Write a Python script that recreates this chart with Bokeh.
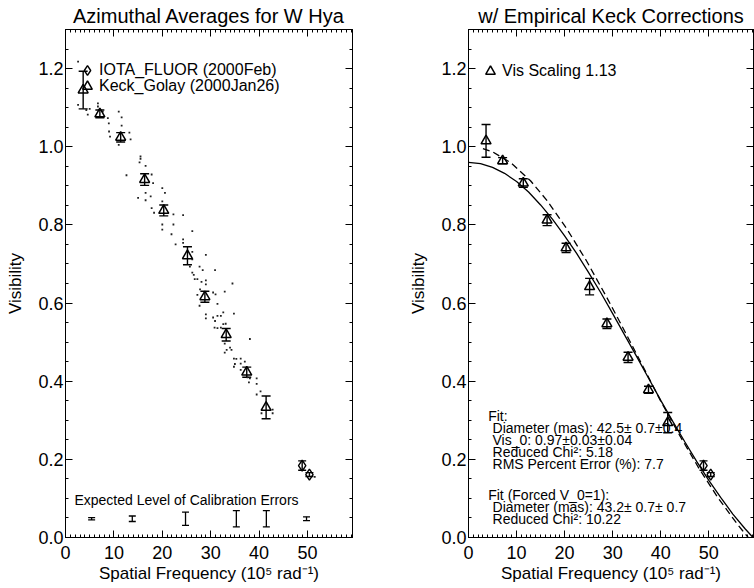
import numpy as np
from bokeh.plotting import figure
from bokeh.layouts import row
from bokeh.models import (ColumnDataSource, Whisker, TeeHead, Label, Legend, LegendItem,
                          LinearAxis, FixedTicker, PrintfTickFormatter, Range1d, Title)
from bokeh.embed import file_html
from bokeh.resources import INLINE

FONT = "Liberation Sans"

# ---------------- data ----------------
x_ticks = [0, 10, 20, 30, 40, 50]
y_ticks = [0.0, 0.2, 0.4, 0.6, 0.8, 1.0, 1.2]

keck_freq = [3.65, 7.1, 11.4, 16.35, 20.3, 25.2, 28.8, 33.2, 37.45, 41.45]
keck_vis_raw = [1.145, 1.084, 1.024, 0.916, 0.837, 0.721, 0.616, 0.519, 0.423, 0.333]
keck_err_raw = [0.048, 0.010, 0.012, 0.015, 0.014, 0.023, 0.014, 0.016, 0.013, 0.029]
keck_vis_corr = [1.015, 0.964, 0.907, 0.812, 0.741, 0.642, 0.547, 0.461, 0.378, 0.294]
keck_err_corr = [0.042, 0.008, 0.011, 0.014, 0.012, 0.021, 0.012, 0.013, 0.009, 0.026]

iota_freq = [48.9, 50.4]
iota_vis = [0.184, 0.161]
iota_err = [0.012, 0.005]

cal_freq = [5.4, 13.8, 24.8, 35.3, 41.5, 49.8]
cal_level = [0.048, 0.048, 0.048, 0.048, 0.048, 0.048]
cal_err = [0.003, 0.007, 0.017, 0.021, 0.021, 0.005]

dots_freq = [2.6, 2.6, 4.3, 5.0, 4.6, 6.7, 6.7, 7.7, 8.75, 8.95,
             11.0, 11.6, 9.0, 9.2, 11.6, 13.2, 13.45, 11.0, 15.5, 15.5,
             16.55, 15.3, 17.8, 18.1, 12.6, 15.0, 16.55, 16.55, 17.6, 20.0,
             20.55, 20.0, 17.8, 18.3, 22.3, 24.3, 20.0, 22.3, 20.0, 21.9,
             26.2, 22.75, 24.3, 24.3,
             26.2, 29.0, 26.2, 25.7, 27.7, 28.35, 30.9, 26.2, 26.5, 26.7,
             27.25, 28.1, 29.0, 29.0, 34.5, 27.8, 30.5, 31.0, 32.9, 27.25,
             31.4, 27.7, 29.0, 29.0, 30.5, 31.4, 32.1, 32.6, 34.8, 30.9,
             30.8, 31.4, 32.1, 32.6, 33.1, 38.1, 32.9, 34.0, 34.3, 33.3,
             32.9, 34.8, 35.3, 36.2, 37.05, 35.0, 34.8, 36.2, 36.2, 37.6,
             38.1, 39.5, 37.9, 39.5, 40.3, 39.5, 40.5, 42.8, 42.8, 51.5]
dots_vis = [1.218, 1.107, 1.094, 1.097, 1.082, 1.111, 1.103, 1.090, 1.073, 1.060,
            1.090, 1.075, 1.039, 1.026, 1.054, 1.036, 1.019, 1.005, 0.975, 0.969,
            0.951, 0.960, 0.929, 0.907, 0.927, 0.869, 0.882, 0.863, 0.873, 0.894,
            0.882, 0.860, 0.843, 0.831, 0.827, 0.825, 0.801, 0.801, 0.788, 0.776,
            0.784, 0.750, 0.763, 0.754,
            0.731, 0.723, 0.712, 0.693, 0.693, 0.684, 0.684, 0.678, 0.672, 0.661,
            0.661, 0.654, 0.658, 0.648, 0.650, 0.635, 0.627, 0.622, 0.629, 0.621,
            0.598, 0.593, 0.571, 0.561, 0.563, 0.567, 0.567, 0.576, 0.573, 0.554,
            0.537, 0.536, 0.537, 0.546, 0.547, 0.508, 0.496, 0.486, 0.480, 0.480,
            0.473, 0.458, 0.457, 0.458, 0.450, 0.444, 0.437, 0.445, 0.429, 0.410,
            0.407, 0.407, 0.397, 0.393, 0.374, 0.366, 0.318, 0.327, 0.318, 0.155]

fit_freq = [0, 2.5, 5, 7.5, 10, 12.5, 15, 17.5, 20, 22.5, 25, 27.5, 30, 32.5,
            35, 37.5, 40, 42.5, 45, 47.5, 50, 52.5, 55, 57.5, 59.2]
fit_vis = [0.960, 0.957, 0.947, 0.932, 0.911, 0.884, 0.851, 0.814, 0.772, 0.727,
           0.678, 0.627, 0.573, 0.518, 0.463, 0.407, 0.351, 0.297, 0.245, 0.194,
           0.146, 0.102, 0.060, 0.023, 0.0]

forced_freq = [3.0, 5.0, 8.8, 12.9, 16.35, 20.5, 24.6, 28.7, 32.2, 36.0, 40.0,
               44.0, 48.0, 52.0, 56.0, 57.0, 58.2]
forced_vis = [0.995, 0.987, 0.959, 0.913, 0.862, 0.789, 0.707, 0.616, 0.535, 0.445,
              0.349, 0.260, 0.176, 0.100, 0.033, 0.018, 0.0]

fit_lines = ["Fit:",
             "Diameter (mas):  42.5\u00b1 0.7\u00b10.4",
             "Vis_0:  0.97\u00b10.03\u00b10.04",
             "Reduced Chi\u00b2:  5.18",
             "RMS Percent Error (%):  7.7"]
forced_lines = ["Fit (Forced V_0=1):",
                "Diameter (mas):  43.2\u00b1 0.7\u00b1 0.7",
                "Reduced Chi\u00b2: 10.22"]

X_MAX = 59.3
Y_MAX = 1.3
H = 586
TOP = 29
BOTTOM = 49
PX_PER_V = 508.0 / Y_MAX


def src(x, y, e):
    y = np.asarray(y, dtype=float)
    e = np.asarray(e, dtype=float)
    return ColumnDataSource(dict(x=list(x), y=list(y), lo=list(y - e), hi=list(y + e)))


def style_axis(ax, ticks, labelled):
    ax.axis_line_color = "black"
    ax.axis_line_width = 1
    ax.major_tick_line_color = "black"
    ax.minor_tick_line_color = "black"
    ax.major_tick_in = 7
    ax.major_tick_out = 0
    ax.minor_tick_in = 3
    ax.minor_tick_out = 0
    ax.major_label_text_font = FONT
    ax.major_label_text_color = "black"
    ax.major_label_text_font_size = "18px"
    ax.axis_label_text_color = "black"
    if not labelled:
        ax.major_label_overrides = {t: "" for t in ticks}
        ax.major_label_standoff = 0


def make_panel(width, min_left, min_right, title):
    ttl = Title(text=title, align="center", text_font=FONT, text_font_size="20px",
                text_font_style="normal", text_color="black", standoff=5)
    p = figure(width=width, height=H, x_range=Range1d(0, X_MAX), y_range=Range1d(0, Y_MAX),
               x_axis_type=None, y_axis_type=None, output_backend="svg", title=ttl,
               toolbar_location=None, min_border_left=min_left, min_border_right=min_right,
               min_border_top=TOP, min_border_bottom=BOTTOM)
    p.outline_line_color = "black"
    p.outline_line_width = 1
    p.background_fill_color = "white"
    p.border_fill_color = "white"

    x_minor = [float(v) for v in np.arange(0, 60, 1.0)]
    y_minor = [round(float(v), 2) for v in np.arange(0, 1.31, 0.05)]

    bottom = LinearAxis(ticker=FixedTicker(ticks=x_ticks, minor_ticks=x_minor))
    style_axis(bottom, x_ticks, True)
    bottom.major_label_standoff = 8
    bottom.axis_label = "Spatial Frequency (10\u2075 rad\u207b\u00b9)"
    bottom.axis_label_text_font = FONT
    bottom.axis_label_text_font_size = "17px"
    bottom.axis_label_text_font_style = "normal"
    bottom.axis_label_standoff = 2
    p.add_layout(bottom, "below")

    left = LinearAxis(ticker=FixedTicker(ticks=y_ticks, minor_ticks=y_minor),
                      formatter=PrintfTickFormatter(format="%.1f"))
    style_axis(left, y_ticks, True)
    left.major_label_standoff = 2
    left.axis_label = "Visibility"
    left.axis_label_text_font = FONT
    left.axis_label_text_font_size = "17px"
    left.axis_label_text_font_style = "normal"
    left.axis_label_standoff = 10
    p.add_layout(left, "left")

    top = LinearAxis(ticker=FixedTicker(ticks=x_ticks, minor_ticks=x_minor))
    style_axis(top, x_ticks, False)
    p.add_layout(top, "above")

    right = LinearAxis(ticker=FixedTicker(ticks=y_ticks, minor_ticks=y_minor))
    style_axis(right, y_ticks, False)
    p.add_layout(right, "right")
    return p


def errorbars(p, source, head, lw=1.4):
    p.add_layout(Whisker(source=source, base="x", upper="hi", lower="lo", dimension="height",
                         line_color="black", line_width=lw,
                         upper_head=TeeHead(size=head, line_color="black", line_width=lw),
                         lower_head=TeeHead(size=head, line_color="black", line_width=lw)))


def one_legend(p, renderer, label, vx, vy):
    lg = Legend(items=[LegendItem(label=label, renderers=[renderer])], location=(vx, vy),
                padding=0, margin=0, spacing=0, glyph_width=24, glyph_height=24,
                label_height=24, label_standoff=-2, border_line_color=None,
                background_fill_alpha=0, label_text_font=FONT, label_text_font_size="16px",
                label_text_baseline="middle", label_text_color="black")
    p.add_layout(lg)


def text_at(p, x, y, text, size="14px"):
    p.add_layout(Label(x=x, y=y, text=text, text_align="left", text_baseline="middle",
                       text_font=FONT, text_font_size=size, text_color="black"))


# ---------------- left panel ----------------
p1 = make_panel(403, 65, 51, "Azimuthal Averages for W Hya")

p1.scatter(dots_freq, dots_vis, marker="square", size=1.8, fill_color="#222222",
           line_color=None)

k1 = src(keck_freq, keck_vis_raw, keck_err_raw)
errorbars(p1, k1, 9)
r_k1 = p1.scatter("x", "y", source=k1, marker="triangle", size=10, fill_color=None,
                  line_color="black", line_width=1.5)

i1 = src(iota_freq, iota_vis, iota_err)
errorbars(p1, i1, 8)
r_i1 = p1.scatter("x", "y", source=i1, marker="diamond", size=11, fill_color=None,
                  line_color="black", line_width=1.4)

c1 = src(cal_freq, cal_level, cal_err)
errorbars(p1, c1, 7, lw=1.3)

text_at(p1, 1.85, 0.095, "Expected Level of Calibration Errors")

one_legend(p1, r_i1, "IOTA_FLUOR (2000Feb)", 10, 455)
one_legend(p1, r_k1, "Keck_Golay (2000Jan26)", 10, 439)

# ---------------- right panel ----------------
p2 = make_panel(351, 65, 1, "w/ Empirical Keck Corrections")

p2.line(fit_freq, fit_vis, line_color="black", line_width=1.3)
p2.line(forced_freq, forced_vis, line_color="black", line_width=1.3, line_dash="7 4")

k2 = src(keck_freq, keck_vis_corr, keck_err_corr)
errorbars(p2, k2, 9)
r_k2 = p2.scatter("x", "y", source=k2, marker="triangle", size=10, fill_color=None,
                  line_color="black", line_width=1.5)

i2 = src(iota_freq, iota_vis, iota_err)
errorbars(p2, i2, 8)
p2.scatter("x", "y", source=i2, marker="diamond", size=11, fill_color=None,
           line_color="black", line_width=1.4)

one_legend(p2, r_k2, "Vis Scaling 1.13", 10, 454)

line_step = 12.2 / PX_PER_V
for i, t in enumerate(fit_lines):
    text_at(p2, 4.1 if i == 0 else 5.0, 0.312 - i * line_step, t)
for i, t in enumerate(forced_lines):
    text_at(p2, 4.1 if i == 0 else 5.0, 0.110 - i * line_step, t)

layout = row(p1, p2)

with open("out.html", "w") as f:
    f.write(file_html(layout, INLINE))
